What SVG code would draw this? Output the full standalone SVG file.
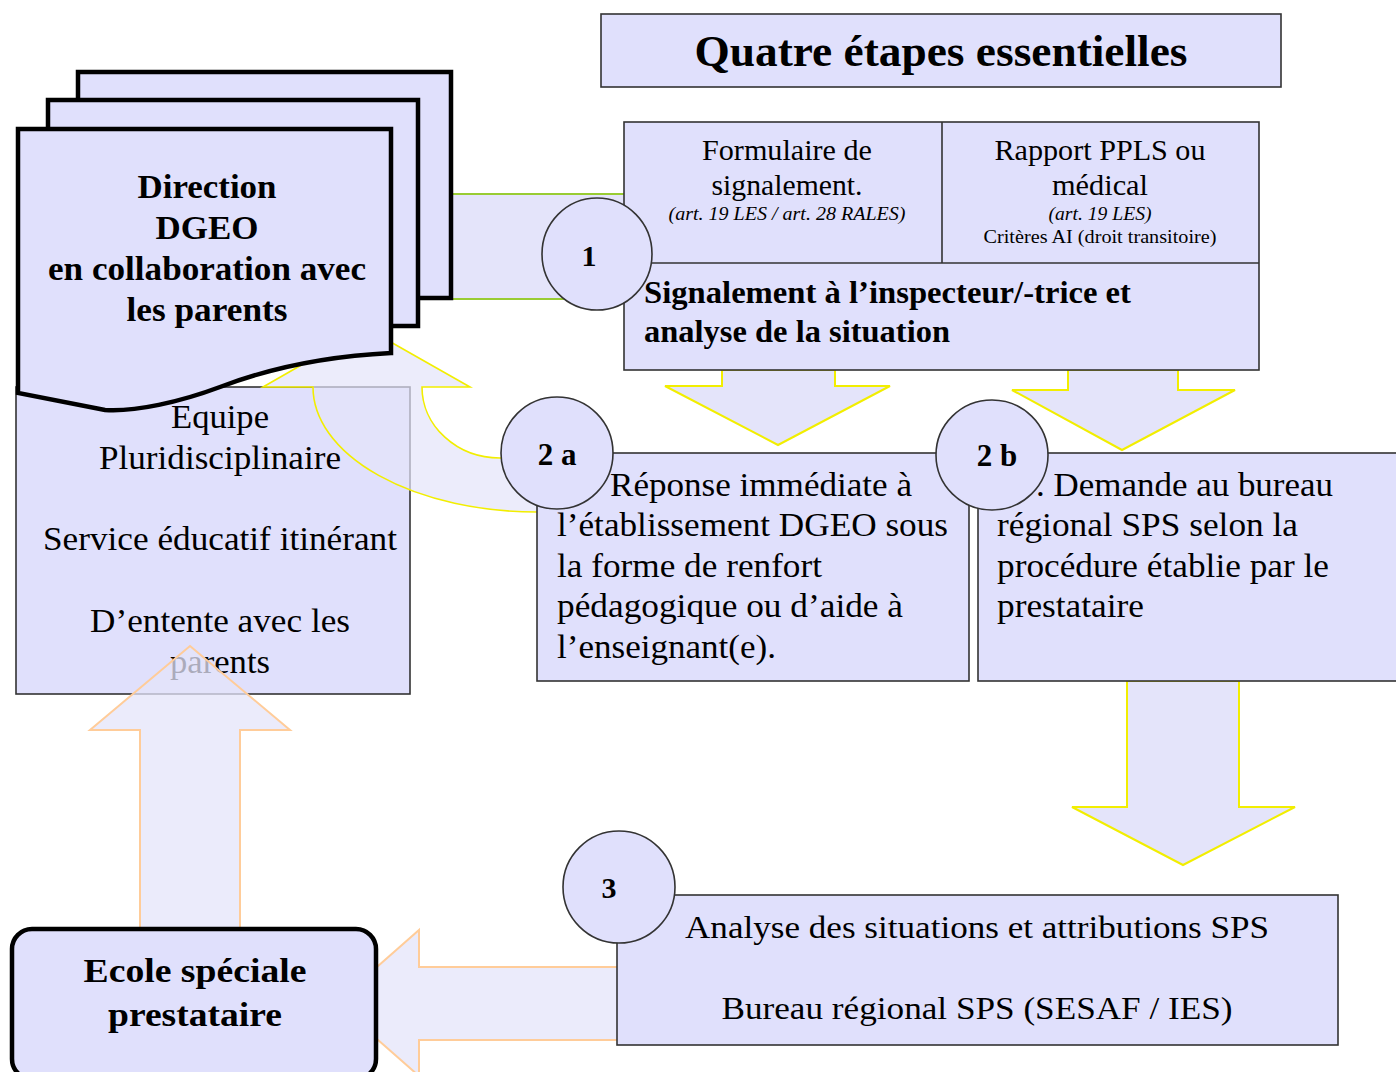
<svg xmlns="http://www.w3.org/2000/svg" width="1396" height="1072" viewBox="0 0 1396 1072" font-family="Liberation Serif, DejaVu Serif, serif">
  <style>
    .box { fill: #e0e0fc; stroke: #333; stroke-width: 1.6; }
    .doc { fill: #e0e0fc; stroke: #000; stroke-width: 4.5; stroke-linejoin: miter; }
    .step { fill: #e0e0fc; stroke: #333; stroke-width: 1.6; }
    .arrY { fill: #e4e4fa; stroke: #f2ee00; stroke-width: 2; }
    .arrO { fill: #e4e4fa; fill-opacity: 0.75; stroke: #ffcc99; stroke-width: 2; }
    .arrC { fill: #e4e4fa; fill-opacity: 0.7; stroke: #f2ee00; stroke-width: 1.6; }
    text { font-family: 'Liberation Serif', 'DejaVu Serif', serif; fill: #000; }
    .b { font-weight: bold; }
    .i { font-style: italic; }
    .c { text-anchor: middle; }
  </style>

  <!-- connectors -->
  <g id="connectors">
    <!-- band from Direction to step 1 -->
    <rect x="420" y="194" width="204" height="106" fill="#e4e4fa"/>
    <line x1="420" y1="194" x2="624" y2="194" stroke="#99cc33" stroke-width="2"/>
    <line x1="420" y1="299" x2="624" y2="299" stroke="#99cc33" stroke-width="2"/>
    <!-- step 1 down to 2a / 2b -->
    <path class="arrY" d="M722,370 L835,370 L835,386 L890,386 L778,445 L665,386 L722,386 Z"/>
    <path class="arrY" d="M1068,370 L1178,370 L1178,390 L1235,390 L1122,450 L1012,390 L1068,390 Z"/>
    <!-- 2b down to 3 -->
    <path class="arrY" d="M1127,681 L1239,681 L1239,807 L1295,807 L1183,865 L1072,807 L1127,807 Z"/>
    <!-- 3 to Ecole -->
    <path class="arrO" d="M336,1003 L419,930 L419,967 L620,967 L620,1040 L419,1040 L419,1076 Z"/>
  </g>

  <!-- title -->
  <g id="title">
    <rect class="box" x="601" y="14" width="680" height="73"/>
    <text class="b c" x="941" y="66" font-size="44" textLength="493" lengthAdjust="spacingAndGlyphs">Quatre étapes essentielles</text>
  </g>

  <!-- step 1 -->
  <g id="step1">
    <rect class="box" x="624" y="122" width="635" height="248"/>
    <line x1="942" y1="122" x2="942" y2="263" stroke="#333" stroke-width="1.6"/>
    <line x1="624" y1="263" x2="1259" y2="263" stroke="#333" stroke-width="1.6"/>
    <text class="c" x="787" y="160" font-size="29" textLength="170" lengthAdjust="spacingAndGlyphs">Formulaire de</text>
    <text class="c" x="787" y="195" font-size="29" textLength="151" lengthAdjust="spacingAndGlyphs">signalement.</text>
    <text class="c i" x="787" y="220" font-size="18" textLength="237" lengthAdjust="spacingAndGlyphs">(art. 19 LES / art. 28 RALES)</text>
    <text class="c" x="1100" y="160" font-size="29" textLength="211" lengthAdjust="spacingAndGlyphs">Rapport PPLS ou</text>
    <text class="c" x="1100" y="195" font-size="29" textLength="96" lengthAdjust="spacingAndGlyphs">médical</text>
    <text class="c i" x="1100" y="220" font-size="18" textLength="103" lengthAdjust="spacingAndGlyphs">(art. 19 LES)</text>
    <text class="c" x="1100" y="243" font-size="18" textLength="233" lengthAdjust="spacingAndGlyphs">Critères AI (droit transitoire)</text>
    <text class="b" x="644" y="303" font-size="31" textLength="487" lengthAdjust="spacingAndGlyphs">Signalement à l’inspecteur/-trice et</text>
    <text class="b" x="644" y="342" font-size="31" textLength="306" lengthAdjust="spacingAndGlyphs">analyse de la situation</text>
  </g>

  <!-- Equipe box -->
  <g id="equipe">
    <rect class="box" x="16" y="387" width="394" height="307"/>
    <text class="c" x="220" y="428" font-size="34" textLength="98" lengthAdjust="spacingAndGlyphs">Equipe</text>
    <text class="c" x="220" y="469" font-size="34" textLength="242" lengthAdjust="spacingAndGlyphs">Pluridisciplinaire</text>
    <text class="c" x="220" y="550" font-size="34" textLength="354" lengthAdjust="spacingAndGlyphs">Service éducatif itinérant</text>
    <text class="c" x="220" y="632" font-size="34" textLength="260" lengthAdjust="spacingAndGlyphs">D’entente avec les</text>
    <text class="c" x="220" y="673" font-size="34" textLength="100" lengthAdjust="spacingAndGlyphs">parents</text>
  </g>

  <!-- return arrows over the Equipe box -->
  <g id="return-arrows">
    <path class="arrC" d="M366,328 L470,387 L422,387 A78,71 0 0 0 500,458 L545,458 L545,512 L537,512 A224,125 0 0 1 313,387 L263,387 Z"/>
    <path class="arrO" d="M190,646 L290,730 L240,730 L240,930 L140,930 L140,730 L90,730 Z"/>
  </g>

  <!-- Direction DGEO document stack -->
  <g id="direction">
    <rect class="doc" x="78" y="72" width="373" height="226"/>
    <rect class="doc" x="48" y="100" width="370" height="226"/>
    <path class="doc" d="M18,129 H391 V353 C330,356 270,368 220,387 C180,402 135,412 105,410 L18,393 Z"/>
    <text class="b c" x="207" y="198" font-size="33" textLength="139" lengthAdjust="spacingAndGlyphs">Direction</text>
    <text class="b c" x="207" y="239" font-size="33" textLength="103" lengthAdjust="spacingAndGlyphs">DGEO</text>
    <text class="b c" x="207" y="280" font-size="33" textLength="318" lengthAdjust="spacingAndGlyphs">en collaboration avec</text>
    <text class="b c" x="207" y="321" font-size="33" textLength="161" lengthAdjust="spacingAndGlyphs">les parents</text>
  </g>

  <!-- step 2a -->
  <g id="step2a">
    <rect class="box" x="537" y="453" width="432" height="228"/>
    <text x="610" y="496" font-size="34" textLength="302" lengthAdjust="spacingAndGlyphs">Réponse immédiate à</text>
    <text x="557" y="536" font-size="34" textLength="391" lengthAdjust="spacingAndGlyphs">l’établissement DGEO sous</text>
    <text x="557" y="577" font-size="34" textLength="265" lengthAdjust="spacingAndGlyphs">la forme de renfort</text>
    <text x="557" y="617" font-size="34" textLength="346" lengthAdjust="spacingAndGlyphs">pédagogique ou d’aide à</text>
    <text x="557" y="658" font-size="34" textLength="219" lengthAdjust="spacingAndGlyphs">l’enseignant(e).</text>
  </g>

  <!-- step 2b -->
  <g id="step2b">
    <rect class="box" x="978" y="453" width="430" height="228"/>
    <text x="1036" y="496" font-size="34" textLength="297" lengthAdjust="spacingAndGlyphs">. Demande au bureau</text>
    <text x="997" y="536" font-size="34" textLength="301" lengthAdjust="spacingAndGlyphs">régional SPS selon la</text>
    <text x="997" y="577" font-size="34" textLength="332" lengthAdjust="spacingAndGlyphs">procédure établie par le</text>
    <text x="997" y="617" font-size="34" textLength="147" lengthAdjust="spacingAndGlyphs">prestataire</text>
  </g>

  <!-- step 3 -->
  <g id="step3">
    <rect class="box" x="617" y="895" width="721" height="150"/>
    <text class="c" x="977" y="938" font-size="32" textLength="584" lengthAdjust="spacingAndGlyphs">Analyse des situations et attributions SPS</text>
    <text class="c" x="977" y="1019" font-size="32" textLength="511" lengthAdjust="spacingAndGlyphs">Bureau régional SPS (SESAF / IES)</text>
  </g>

  <!-- Ecole spéciale -->
  <g id="ecole">
    <rect class="doc" x="12" y="929" width="364" height="150" rx="20" ry="20"/>
    <text class="b c" x="195" y="982" font-size="34" textLength="223" lengthAdjust="spacingAndGlyphs">Ecole spéciale</text>
    <text class="b c" x="195" y="1026" font-size="34" textLength="174" lengthAdjust="spacingAndGlyphs">prestataire</text>
  </g>

  <!-- step numbers -->
  <g id="badge1">
    <ellipse class="step" cx="597" cy="254" rx="55" ry="56"/>
    <text class="b c" x="589" y="266" font-size="30">1</text>
  </g>
  <g id="badge2a">
    <ellipse class="step" cx="557" cy="453" rx="56" ry="56"/>
    <text class="b c" x="557" y="465" font-size="31">2 a</text>
  </g>
  <g id="badge2b">
    <ellipse class="step" cx="992" cy="455" rx="56" ry="55"/>
    <text class="b c" x="997" y="466" font-size="31">2 b</text>
  </g>
  <g id="badge3">
    <ellipse class="step" cx="619" cy="887" rx="56" ry="56"/>
    <text class="b c" x="609" y="898" font-size="30">3</text>
  </g>
</svg>
